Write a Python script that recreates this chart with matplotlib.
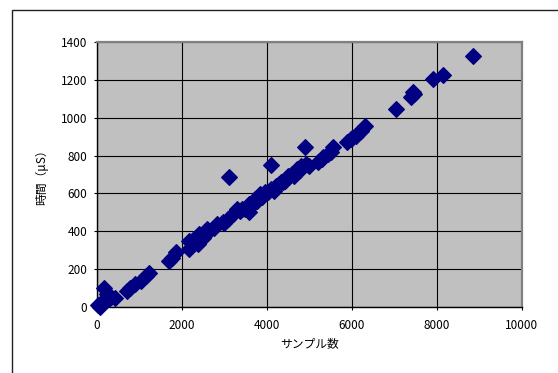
import matplotlib
matplotlib.use("Agg")
import matplotlib.pyplot as plt
from matplotlib.patches import Rectangle

plt.rcParams['font.family'] = ['Noto Sans CJK JP', 'DejaVu Sans']

# サンプル数 / 時間 (読み取り値)
samples = [40, 110, 85, 185, 250, 350, 435, 290, 710, 795, 900, 1045, 1170, 1235,
           1710, 1770, 1880, 2170, 2170, 2300, 2380, 2420, 2505, 2590, 2755, 2840,
           2965, 3090, 3215, 3300, 3425, 3590, 3590, 3720, 3840, 3970, 4090, 4220,
           4345, 4430, 4510, 4595, 4720, 4800, 4930, 4995, 5305, 5430, 5510, 5555,
           5890, 5975, 6100, 6225, 6305,
           3115, 4110, 4900,
           7040, 7400, 7460, 7450, 7915, 8150, 8855,
           2250, 2650, 3000, 3380, 3500, 3650, 3780, 3900, 4020, 4160, 4280, 4390,
           4650, 4760, 5215, 5330, 6000, 6150]
times = [10, 23, 0, 102, 67, 53, 49, 40, 85, 102, 120, 138, 164, 177,
         244, 261, 288, 350, 305, 358, 332, 385, 367, 411, 420, 438,
         447, 464, 491, 517, 517, 500, 544, 570, 597, 605, 623, 641,
         658, 667, 694, 702, 729, 747, 755, 747, 782, 808, 817, 847,
         870, 888, 905, 932, 958,
         688, 752, 846,
         1048, 1110, 1125, 1135, 1203, 1224, 1328,
         340, 400, 445, 505, 520, 540, 560, 580, 610, 615, 650, 660,
         690, 720, 768, 794, 891, 918]

xticks = [0, 2000, 4000, 6000, 8000, 10000]
yticks = [0, 200, 400, 600, 800, 1000, 1200, 1400]

W, H = 558, 373
fig = plt.figure(figsize=(W / 100, H / 100), dpi=100)

# 外枠
fig.patches.append(Rectangle((11.5 / W, -0.1), 1.2, 1 - 9.5 / H + 0.1,
                             transform=fig.transFigure, fill=False,
                             edgecolor='#222222', linewidth=1.0))

ax = fig.add_axes([96.5 / W, (H - 307) / H, 425.5 / W, 265 / H])
ax.set_facecolor('#C0C0C0')

ax.plot(samples, times, linestyle='none', marker='D', markersize=8,
        color='#000080', markeredgecolor='#000080', markeredgewidth=0.8,
        zorder=3, clip_on=False)

ax.set_xlim(0, 10000)
ax.set_ylim(0, 1400)
ax.set_xticks(xticks)
ax.set_yticks(yticks)
ax.grid(True, color='black', linewidth=0.8)
ax.set_axisbelow(True)

for s in ['top', 'right']:
    ax.spines[s].set_color('#808080')
    ax.spines[s].set_linewidth(1.6)
for s in ['left', 'bottom']:
    ax.spines[s].set_color('black')
    ax.spines[s].set_linewidth(1.0)

ax.tick_params(direction='out', length=2.5, width=0.8, labelsize=8.5, pad=4)
ax.tick_params(axis='x', pad=6)

ax.set_xlabel('サンプル数', fontsize=8.5, labelpad=4)
ax.set_ylabel('時間（μS）', fontsize=8.5, labelpad=9)

fig.savefig('out.png', dpi=100)
